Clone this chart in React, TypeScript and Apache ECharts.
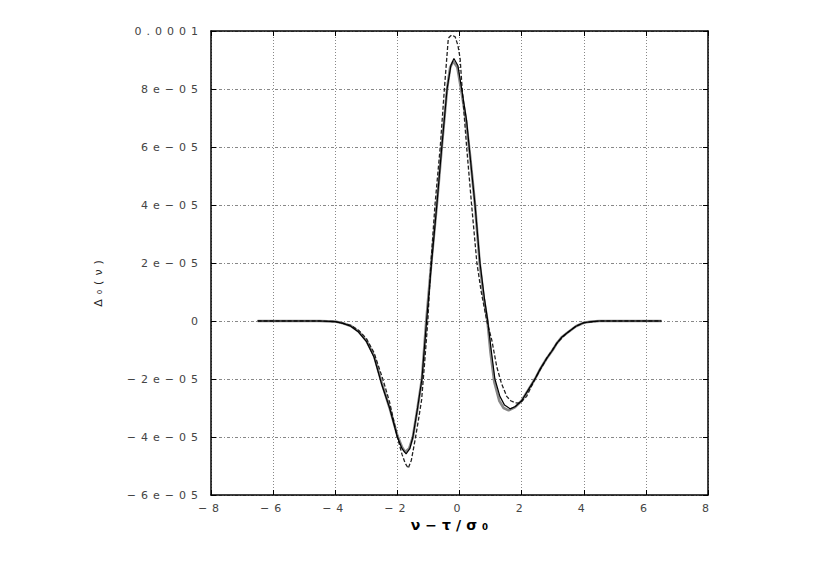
import React, { useEffect, useRef } from "react";
import * as echarts from "echarts";

// values, y in units of 1e-5
const SCALE = 1e-5;

const solidX = [-6.5, -5, -4.5, -4, -3.75, -3.5, -3.25, -3, -2.75, -2.5, -2.25, -2, -1.85, -1.72, -1.6, -1.5, -1.35, -1.21, -1.06, -0.9, -0.73, -0.57, -0.4, -0.28, -0.18, -0.05, 0.07, 0.23, 0.34, 0.5, 0.66, 0.8, 0.91, 1.02, 1.14, 1.3, 1.45, 1.63, 1.8, 2.0, 2.2, 2.43, 2.6, 2.8, 3.0, 3.13, 3.3, 3.45, 3.6, 3.75, 4.0, 4.25, 4.5, 5, 6.5];
const solidY = [0, 0, 0, -0.02, -0.08, -0.18, -0.38, -0.7, -1.25, -2.2, -3.0, -4.0, -4.4, -4.58, -4.4, -4.0, -3.0, -2.0, 0, 2.0, 4.0, 6.0, 8.0, 8.8, 9.05, 8.8, 8.0, 6.9, 5.7, 4.0, 2.0, 0.8, 0, -1.0, -2.0, -2.6, -2.9, -3.03, -2.95, -2.75, -2.4, -2.0, -1.65, -1.3, -1.0, -0.77, -0.55, -0.42, -0.3, -0.18, -0.06, -0.02, 0, 0, 0];

const grayX = [-6.5, -5, -4.5, -4, -3.75, -3.5, -3.25, -3, -2.75, -2.5, -2.25, -2, -1.85, -1.75, -1.62, -1.5, -1.35, -1.21, -1.07, -0.9, -0.73, -0.57, -0.4, -0.3, -0.2, -0.07, 0.05, 0.2, 0.34, 0.5, 0.65, 0.78, 0.9, 1.0, 1.12, 1.28, 1.42, 1.58, 1.78, 2.0, 2.2, 2.43, 2.6, 2.8, 3.0, 3.13, 3.3, 3.45, 3.6, 3.75, 4.0, 4.25, 4.5, 5, 6.5];
const grayY = [0, 0, 0, -0.02, -0.08, -0.17, -0.36, -0.68, -1.2, -2.15, -3.0, -3.95, -4.35, -4.52, -4.4, -4.0, -3.0, -2.0, 0, 2.1, 4.0, 6.0, 8.0, 8.75, 8.95, 8.75, 8.0, 7.0, 5.7, 4.0, 2.0, 0.8, 0, -1.1, -2.1, -2.75, -3.0, -3.08, -2.98, -2.75, -2.4, -2.0, -1.65, -1.3, -1.0, -0.77, -0.55, -0.42, -0.3, -0.18, -0.06, -0.02, 0, 0, 0];

const dashX = [-6.5, -5, -4.5, -4, -3.75, -3.5, -3.25, -3, -2.75, -2.47, -2.25, -2, -1.85, -1.75, -1.65, -1.55, -1.43, -1.32, -1.22, -1.12, -1.02, -0.92, -0.79, -0.62, -0.47, -0.41, -0.36, -0.3, -0.25, -0.14, -0.05, 0.02, 0.07, 0.15, 0.23, 0.39, 0.56, 0.7, 0.88, 1.04, 1.2, 1.35, 1.52, 1.65, 1.8, 1.95, 2.16, 2.43, 2.8, 3.13, 3.45, 3.75, 4, 4.5, 5, 6.5];
const dashY = [0, 0, 0, -0.02, -0.08, -0.15, -0.32, -0.6, -1.1, -2.0, -2.8, -4.0, -4.6, -4.9, -5.08, -4.8, -4.1, -3.4, -2.72, -1.4, 0, 2.0, 4.0, 6.0, 8.24, 9.06, 9.75, 9.82, 9.86, 9.8, 9.5, 9.05, 8.25, 7.1, 6.0, 4.0, 2.0, 1.0, 0, -0.66, -1.58, -2.15, -2.6, -2.75, -2.82, -2.83, -2.6, -2.0, -1.3, -0.77, -0.42, -0.18, -0.06, 0, 0, 0];

const xTickLabels = ["\u22128", "\u22126", "\u22124", "\u22122", "0", "2", "4", "6", "8"];
const yTickLabels = ["\u22126e\u221205", "\u22124e\u221205", "\u22122e\u221205", "0", "2e\u221205", "4e\u221205", "6e\u221205", "8e\u221205", "0.0001"];
const xName = "\u03bd\u2212\u03c4/\u03c3\u2080";
const yName = "\u0394\u2080(\u03bd)";

const X_MIN = -8, X_MAX = 8, X_STEP = 2;
const Y_MIN = -6e-5, Y_MAX = 1e-4, Y_STEP = 2e-5;

const pairs = (xs: number[], ys: number[]) => xs.map((x, i) => [x, ys[i] * SCALE]);

export default function App() {
  const ref = useRef<HTMLDivElement>(null);
  useEffect(() => {
    const chart = echarts.init(ref.current!, null, { renderer: "svg" });
    const font = "DejaVu Sans";
    const labelStyle = { color: "#444", fontFamily: font, fontSize: 11 };
    const axisLine = { show: true, onZero: false, lineStyle: { color: "#000", width: 1.5 } };
    const tick = { show: true, inside: true, length: 5, lineStyle: { color: "#000" } };
    chart.setOption({
      animation: false,
      backgroundColor: "#fff",
      grid: { left: 211, right: 122, top: 31, bottom: 86, show: false },
      xAxis: [
        {
          type: "value", min: X_MIN, max: X_MAX, interval: X_STEP, position: "bottom",
          axisLine, axisTick: tick,
          axisLabel: {
            ...labelStyle, margin: 8,
            formatter: (v: number) => xTickLabels[Math.round((v - X_MIN) / X_STEP)] ?? "",
          },
          splitLine: { show: true, lineStyle: { color: "#888", type: [1, 2], width: 1 } },
        },
        {
          type: "value", min: X_MIN, max: X_MAX, interval: X_STEP, position: "top",
          axisLine, axisTick: tick,
          axisLabel: { show: false }, splitLine: { show: false },
        },
      ],
      yAxis: [
        {
          type: "value", min: Y_MIN, max: Y_MAX, interval: Y_STEP, position: "left",
          axisLine, axisTick: tick,
          axisLabel: {
            ...labelStyle, margin: 8,
            formatter: (v: number) => yTickLabels[Math.round((v - Y_MIN) / Y_STEP)] ?? "",
          },
          splitLine: { show: true, lineStyle: { color: "#888", type: [3, 2, 1, 2], width: 1 } },
        },
        {
          type: "value", min: Y_MIN, max: Y_MAX, interval: Y_STEP, position: "right",
          axisLine, axisTick: tick,
          axisLabel: { show: false }, splitLine: { show: false },
        },
      ],
      series: [
        {
          type: "line", xAxisIndex: 0, yAxisIndex: 0, data: pairs(grayX, grayY), showSymbol: false,
          lineStyle: { color: "#888", width: 2.6 }, z: 2,
        },
        {
          type: "line", xAxisIndex: 0, yAxisIndex: 0, data: pairs(dashX, dashY), showSymbol: false,
          lineStyle: { color: "#222", width: 1.3, type: [4, 2] }, z: 3,
        },
        {
          type: "line", xAxisIndex: 0, yAxisIndex: 0, data: pairs(solidX, solidY), showSymbol: false,
          lineStyle: { color: "#000", width: 1.2 }, z: 4,
        },
      ],
      graphic: [
        {
          type: "text", x: 452, y: 525,
          style: {
            text: xName, align: "center", verticalAlign: "middle",
            fontFamily: font, fontSize: 14, fontWeight: "bold", fill: "#000",
          },
        },
        {
          type: "text", x: 98, y: 281, rotation: Math.PI / 2,
          style: {
            text: yName, align: "center", verticalAlign: "middle",
            fontFamily: font, fontSize: 11, fill: "#222",
          },
        },
      ],
    });
    return () => chart.dispose();
  }, []);
  return (
    <div style={{ position: "fixed", left: 0, top: 0, width: 830, height: 581, background: "#fff" }}>
      <style>{`.plotbox text { letter-spacing: 5px; }`}</style>
      <div className="plotbox" ref={ref} style={{ width: 830, height: 581 }} />
    </div>
  );
}
